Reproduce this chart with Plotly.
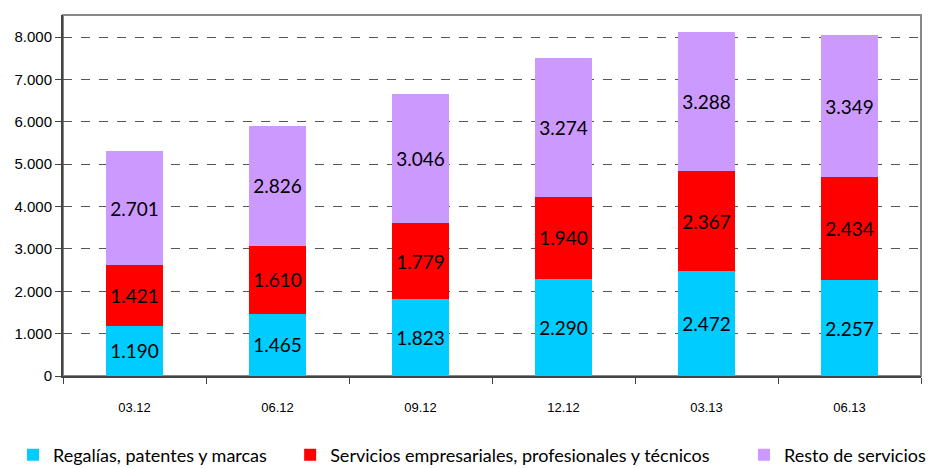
import plotly.graph_objects as go

periodos = ['03.12', '06.12', '09.12', '12.12', '03.13', '06.13']
regalias = [1190, 1465, 1823, 2290, 2472, 2257]
servicios_emp = [1421, 1610, 1779, 1940, 2367, 2434]
resto = [2701, 2826, 3046, 3274, 3288, 3349]

series = [
    ('Regalías, patentes y marcas', regalias, '#00CCFF', 'legend', 0.014),
    ('Servicios empresariales, profesionales y técnicos', servicios_emp, '#FF0000', 'legend2', 0.312),
    ('Resto de servicios', resto, '#CC99FF', 'legend3', 0.800),
]

fig = go.Figure()
leyendas = {}
for nombre, vals, color, ley, xpos in series:
    fig.add_trace(go.Bar(
        x=periodos, y=vals, name=nombre, legend=ley, showlegend=True,
        marker=dict(color=color, line=dict(width=0)),
        texttemplate='%{y:,d}', textposition='inside', insidetextanchor='middle',
        textfont=dict(family='Lato', size=19, color='black'),
        textangle=0,
    ))
    leyendas[ley] = dict(orientation='h', x=xpos, xanchor='left', xref='container',
                         y=-0.168, yanchor='top', yref='paper',
                         font=dict(family='Lato', size=18, color='black'),
                         itemwidth=30, bgcolor='rgba(0,0,0,0)')

fig.update_layout(
    barmode='stack', bargap=0.595,
    separators=',.',
    width=930, height=468, showlegend=True,
    margin=dict(l=63, r=9, t=15, b=92, autoexpand=False),
    paper_bgcolor='white', plot_bgcolor='white',
    font=dict(family='Liberation Sans', color='black'),
    uniformtext=dict(mode='show', minsize=19),
    shapes=[dict(type='rect', xref='paper', yref='paper', x0=0, y0=0, x1=1, y1=1,
                 line=dict(color='#888888', width=2), layer='below')],
    **leyendas,
)
fig.update_yaxes(range=[0, 8520], dtick=1000, tickformat=',d', automargin=False,
                 showgrid=True, gridcolor='#555555', griddash='dash', gridwidth=1,
                 showline=True, linecolor='#444444', linewidth=2,
                 ticks='outside', ticklen=6, tickcolor='#444444',
                 tickfont=dict(size=15), zeroline=False)
fig.update_xaxes(showline=True, linecolor='#444444', linewidth=2, automargin=False,
                 ticks='outside', tickson='boundaries', ticklen=6, tickcolor='#444444',
                 ticklabelstandoff=18, tickfont=dict(size=13))

# quitar el margen por defecto del body para que la figura empiece en (0, 0)
fig.write_html('out.html', config={'displayModeBar': False},
               post_script="document.body.style.margin='0';")
